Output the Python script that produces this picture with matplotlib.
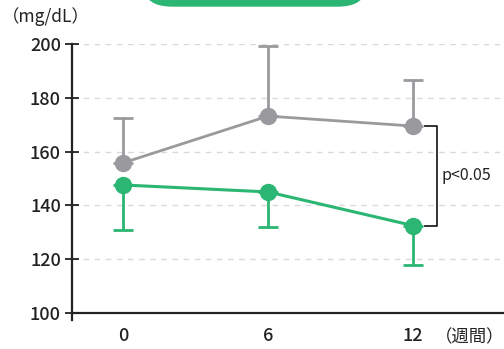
import matplotlib.pyplot as plt
from matplotlib.patches import FancyBboxPatch

plt.rcParams['font.family'] = ['Noto Sans CJK JP', 'DejaVu Sans']

weeks = [0, 6, 12]
week_labels = ['0', '6', '12']
control_mean = [155.8, 173.2, 169.5]
control_sd = [16.7, 26.0, 17.1]
treated_mean = [147.6, 145.0, 132.5]
treated_sd = [16.7, 13.0, 14.6]
yticks = [100, 120, 140, 160, 180, 200]

GREEN = '#2bb673'
GRAY = '#9a9a9e'
INK = '#222222'

fig = plt.figure(figsize=(5.04, 3.49), dpi=100)
ax = fig.add_axes([72 / 504, 1 - 320 / 349, 1 - 72 / 504, (320 - 44) / 349])
ax.set_xlim(-2.11, 15.76)
ax.set_ylim(100 - 7 / 2.69, 200)

for y in yticks[1:]:
    ax.axhline(y, color='#d9d9d9', lw=1, ls=(0, (4, 4)), zorder=0)
ax.axhline(100, color=INK, lw=1.6, zorder=1)

# control group: upward error bars only
ax.errorbar(weeks, control_mean, yerr=[[0] * 3, control_sd], color=GRAY,
            lw=2, marker='o', ms=11.5, capsize=7, capthick=2, elinewidth=2,
            zorder=3)
# treatment group: downward error bars only
ax.errorbar(weeks, treated_mean, yerr=[treated_sd, [0] * 3], color=GREEN,
            lw=2.2, marker='o', ms=11.5, capsize=7, capthick=2, elinewidth=2,
            zorder=4)

for s in ['top', 'right', 'bottom']:
    ax.spines[s].set_visible(False)
ax.spines['left'].set_linewidth(1.6)
ax.spines['left'].set_color(INK)
ax.set_yticks(yticks)
ax.tick_params(axis='y', direction='inout', length=10, width=1.3,
               labelsize=13, pad=3, colors=INK)
ax.set_xticks(weeks)
ax.set_xticklabels(week_labels)
ax.tick_params(axis='x', length=0, labelsize=13, pad=5, colors=INK)
for lbl in ax.get_xticklabels() + ax.get_yticklabels():
    lbl.set_fontweight('medium')

# significance bracket
bx = 12 + 24 / 24.17
ax.plot([bx - 12 / 24.17, bx, bx, bx - 12 / 24.17],
        [control_mean[2], control_mean[2], treated_mean[2], treated_mean[2]],
        color=INK, lw=1.3, clip_on=False)
ax.text(bx + 4 / 24.17, (control_mean[2] + treated_mean[2]) / 2, 'p<0.05',
        fontsize=11.5, va='center', ha='left', color=INK)

fig.text(2 / 504, 1 - 17 / 349, '（mg/dL）', fontsize=12.5, va='center',
         ha='left', color=INK)
fig.text(1.0, 1 - 337 / 349, '（週間）', fontsize=12.5, va='center',
         ha='right', color=INK)

box = FancyBboxPatch((145 / 504, 1 - 6 / 349), 220 / 504, 0.2,
                     boxstyle='round,pad=0,rounding_size=0.055',
                     transform=fig.transFigure, color=GREEN, clip_on=False)
fig.patches.append(box)

fig.savefig('out.png', dpi=100)
